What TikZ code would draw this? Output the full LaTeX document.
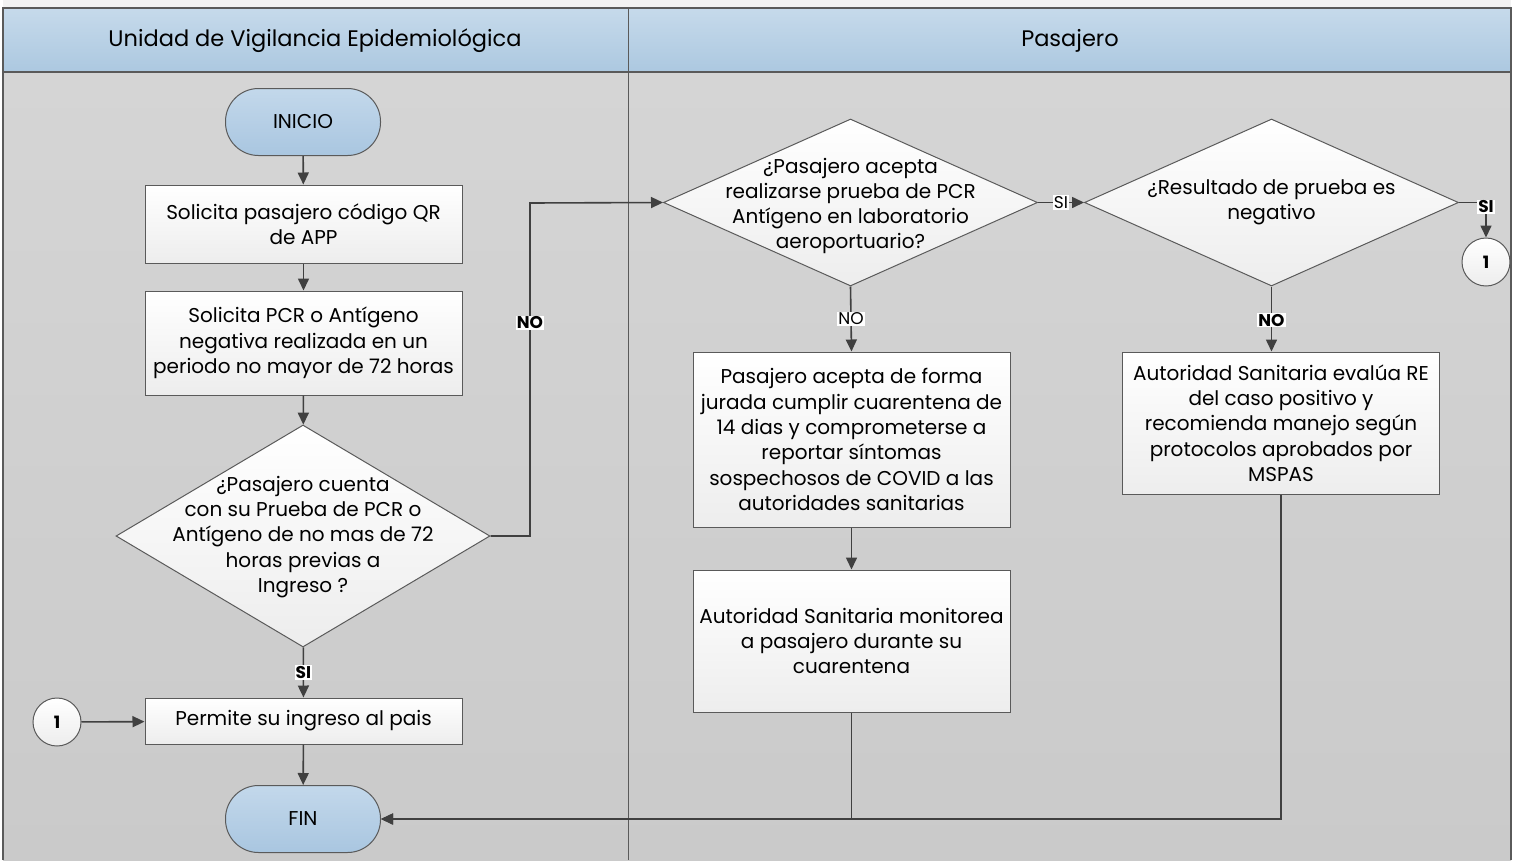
\documentclass[tikz,border=0pt]{standalone}
\usepackage{fontspec}
\setmainfont{Poppins}
\usetikzlibrary{shapes.geometric,arrows.meta,calc}
\definecolor{hdrtop}{HTML}{C6DAEB}
\definecolor{hdrbot}{HTML}{ACC8E0}
\definecolor{lanetop}{HTML}{D5D5D5}
\definecolor{lanebot}{HTML}{CACACA}
\definecolor{termtop}{HTML}{C3D8EB}
\definecolor{termbot}{HTML}{A9C6E0}
\definecolor{boxbot}{HTML}{EDEDED}
\definecolor{edgegray}{HTML}{5A5A5A}
\definecolor{conngray}{HTML}{404040}
\definecolor{stripgray}{HTML}{F2F2F2}
\newcommand\bxfont{\fontsize{20}{25.3}\selectfont}
\newcommand\hdfont{\fontsize{22.5}{26}\selectfont}
\newcommand\lbfont{\fontsize{17}{20}\selectfont}
\begin{document}
\begin{tikzpicture}[x=1pt,y=-1pt,
  stepbox/.style={draw=edgegray, line width=1pt, top color=white, bottom color=boxbot,
    minimum width=317pt, inner sep=0pt, align=center, font=\bxfont},
  term/.style={draw=edgegray, line width=1pt, top color=termtop, bottom color=termbot,
    rounded corners=33pt, minimum width=155pt, minimum height=67pt, inner sep=0pt, font=\bxfont},
  dec/.style={diamond, draw=edgegray, line width=1pt, top color=white, bottom color=boxbot,
    minimum width=374pt, minimum height=167pt, inner sep=0pt},
  dectxt/.style={align=center, font=\bxfont, inner sep=0pt},
  onpage/.style={circle, draw=edgegray, line width=1pt, top color=white, bottom color=boxbot,
    minimum size=48pt, inner sep=0pt, font=\lbfont\bfseries},
  flow/.style={draw=conngray, line width=1.6pt, -{Triangle[length=12pt,width=11pt]}},
  lbl/.style={fill=white, inner sep=1pt, font=\lbfont, text=black},
  blbl/.style={lbl, font=\lbfont\bfseries},
  hdr/.style={font=\hdfont, inner sep=0pt}
]
\useasboundingbox (0,0) rectangle (1519,860);
% background
\fill[white] (0,0) rectangle (1519,860);
\fill[stripgray] (3,0) rectangle (1511,8);
\fill[top color=hdrtop, bottom color=hdrbot] (3,8) rectangle (1511,72);
\fill[top color=lanetop, bottom color=lanebot] (3,72) rectangle (1511,860);
\draw[edgegray, line width=1.2pt] (3,860) -- (3,8) -- (1511,8) -- (1511,860);
\draw[edgegray, line width=1.2pt] (3,72) -- (1511,72);
\draw[edgegray, line width=1pt] (628,8) -- (628,860);
\node[hdr] (h1) at (315,41) {Unidad de Vigilancia Epidemiológica};
\node[hdr] (h2) at (1070,41) {Pasajero};

% left lane
\node[term] (ini) at (303,122) {INICIO};
\node[stepbox, minimum height=78pt] (b1) at (303.5,224) {Solicita pasajero código QR\\de APP};
\node[stepbox, minimum height=104pt] (b2) at (303.5,343) {Solicita PCR o Antígeno\\negativa realizada en un\\periodo no mayor de 72 horas};
\node[dec, minimum height=222pt] (d1) at (303,536) {};
\node[dectxt] (d1t) at (303,537) {¿Pasajero cuenta\\con su Prueba de PCR o\\Antígeno de no mas de 72\\horas previas a\\Ingreso ?};
\node[stepbox, minimum height=46pt] (b3) at (303.5,721) {Permite su ingreso al pais};
\node[term] (fin) at (303,819) {FIN};
\node[onpage] (c1) at (57,722) {1};

% right lane
\node[dec] (d2) at (850.5,202.5) {};
\node[dectxt] (d2t) at (850.5,206) {¿Pasajero acepta\\realizarse prueba de PCR\\Antígeno en laboratorio\\aeroportuario?};
\node[dec] (d3) at (1271.5,202.5) {};
\node[dectxt] (d3t) at (1271.5,202.5) {¿Resultado de prueba es\\negativo};
\node[onpage] (c2) at (1486,262) {1};
\node[stepbox, minimum height=175pt] (b4) at (851.5,439.5) {Pasajero acepta de forma\\jurada cumplir cuarentena de\\14 dias y comprometerse a\\reportar síntomas\\sospechosos de COVID a las\\autoridades sanitarias};
\node[stepbox, minimum height=142pt] (b5) at (851.5,641) {Autoridad Sanitaria monitorea\\a pasajero durante su\\cuarentena};
\node[stepbox, minimum height=142pt] (b6) at (1281,423) {Autoridad Sanitaria evalúa RE\\del caso positivo y\\recomienda manejo según\\protocolos aprobados por\\MSPAS};

% connectors
\draw[flow] (ini) -- (b1);
\draw[flow] (b1) -- (b2);
\draw[flow] (b2) -- (d1);
\draw[flow] (d1) -- node[blbl] {SI} (b3);
\draw[flow] (b3) -- (fin);
\draw[flow] (c1) -- (b3);
\coordinate (k1) at (530,536);
\coordinate (k2) at (530,203);
\draw[flow] (d1.east) -- (k1) -- node[blbl, pos=0.64] {NO} (k2) -- (d2.west);
\draw[flow] (d2.east) -- node[lbl] {SI} (d3.west);
\draw[flow] (d2.south) -- node[lbl] {NO} (b4.north);
\draw[flow] (b4) -- (b5);
\draw[flow] (d3.south) -- node[blbl, pos=0.52] {NO} (d3.south |- b6.north);
\draw[flow] (d3.east) -| node[blbl, pos=0.56] {SI} (c2.north);
\draw[flow] (b5.south) |- (fin.east);
\draw[flow] (b6.south) |- (fin.east);
\end{tikzpicture}
\end{document}
